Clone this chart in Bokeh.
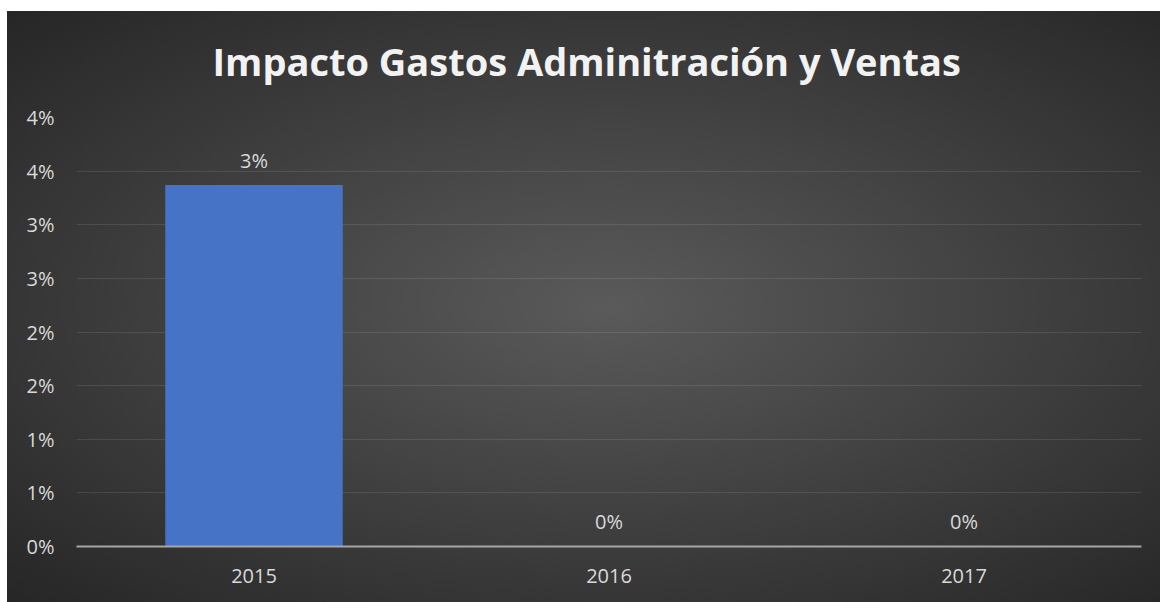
from bokeh.plotting import figure
from bokeh.models import ColumnDataSource, FixedTicker
from bokeh.core.properties import value
from bokeh.embed import file_html
from bokeh.resources import INLINE

# ---- data ----
years = ["2015", "2016", "2017"]
impact = [0.0337, 0.0, 0.0]
data_labels = ["3%", "0%", "0%"]
y_ticks = [0.0, 0.005, 0.01, 0.015, 0.02, 0.025, 0.03, 0.035, 0.04]
y_tick_labels = ["0%", "1%", "1%", "2%", "2%", "3%", "3%", "4%", "4%"]
title_text = "Impacto Gastos Adminitración y Ventas"

src = ColumnDataSource(data=dict(x=years, y=impact, lab=data_labels))

FONT = "Open Sans"
LABEL_COLOR = "#d9d9d9"

p = figure(
    x_range=years, y_range=(0, 0.04),
    width=1160, height=602,
    output_backend="svg", toolbar_location=None,
    min_border_left=76, min_border_right=19,
    min_border_top=117, min_border_bottom=56,
)
p.styles = {"background": "radial-gradient(ellipse at 52% 50%, #5a5a5a 0%, #262626 100%) 7px 11px / 1153px 591px no-repeat, #ffffff"}
p.background_fill_color = None
p.border_fill_color = None
p.outline_line_color = None

# title
p.title.text = title_text
p.title.align = "left"
p.title.offset = 136
p.title.text_font = FONT
p.title.text_font_style = "bold"
p.title.text_font_size = "38px"
p.title.text_color = "#f2f2f2"
p.title.standoff = 62

# bars
p.vbar(x="x", top="y", width=0.5, source=src, fill_color="#4673c6", line_color=None)

# data labels
p.text(x="x", y="y", text="lab", source=src, y_offset=-25,
       text_align="center", text_baseline="middle",
       text_font=value(FONT), text_font_size="20px", text_color=LABEL_COLOR)

# axes
p.yaxis.ticker = FixedTicker(ticks=y_ticks)
p.yaxis.major_label_overrides = dict(zip(y_ticks, y_tick_labels))
p.yaxis.axis_line_color = None
p.yaxis.major_tick_line_color = None
p.yaxis.minor_tick_line_color = None
p.yaxis.major_label_standoff = 16
p.yaxis.major_label_text_font = FONT
p.yaxis.major_label_text_font_size = "20px"
p.yaxis.major_label_text_color = LABEL_COLOR

p.xaxis.axis_line_color = "#a6a6a6"
p.xaxis.axis_line_width = 2
p.xaxis.major_tick_line_color = None
p.xaxis.minor_tick_line_color = None
p.xaxis.major_label_standoff = 16
p.xaxis.major_label_text_font = FONT
p.xaxis.major_label_text_font_size = "20px"
p.xaxis.major_label_text_color = LABEL_COLOR

p.xgrid.grid_line_color = None
p.ygrid.grid_line_color = "#ffffff"
p.ygrid.grid_line_alpha = 0.1

open("out.html", "w").write(file_html(p, INLINE))
